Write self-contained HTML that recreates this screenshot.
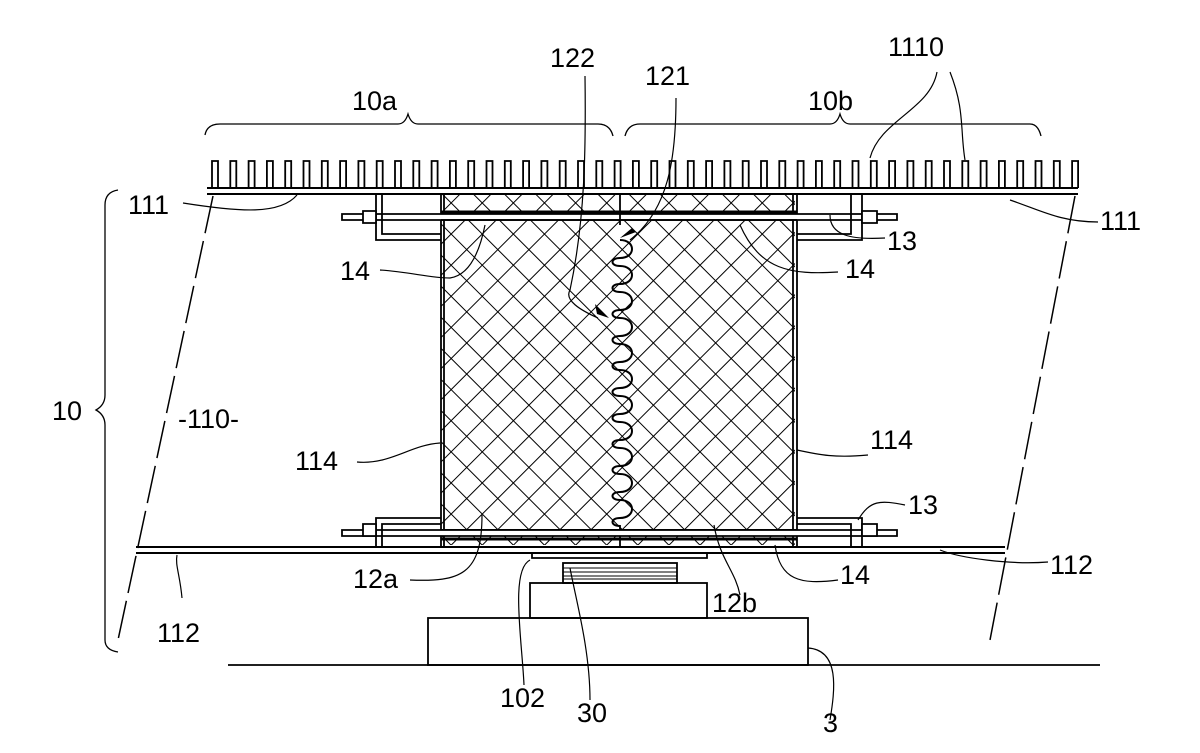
<!DOCTYPE html>
<html><head><style>html,body{margin:0;padding:0;background:#fff}svg{display:block}text{font-family:"Liberation Sans",sans-serif;font-size:27px;fill:#000}</style></head>
<body>
<svg width="1200" height="753" viewBox="0 0 1200 753" xmlns="http://www.w3.org/2000/svg">
<defs>
<pattern id="h" width="22" height="22" patternUnits="userSpaceOnUse" patternTransform="rotate(45)">
<path d="M0 0H22M0 0V22" stroke="#000" stroke-width="2" fill="none"/>
</pattern>
</defs>
<g fill="none" stroke="#000" stroke-width="1.8">
<g id="fins"></g>
<path d="M207 188H1078M207 194H1078" stroke-width="2"/>
<rect x="441" y="194" width="354" height="18" fill="url(#h)" stroke="none"/>
<rect x="441" y="220" width="354" height="310" fill="url(#h)" stroke="none"/>
<rect x="441" y="535" width="354" height="10" fill="url(#h)" stroke="none"/>
<path d="M441 194V547M444 194V547M793 194V547M797 194V547"/>
<path d="M441 212H797" stroke-width="3"/>
<path d="M342 214H897V220H342Z" fill="#fff"/>
<path d="M441 220H797"/>
<path d="M620 194V225M620 525V548"/>
<path d="M376 194V240H441M382 194V234H441M797 240H862V194M797 234H851V194"/>
<path d="M363 211h13v12h-13zM862 211h15v12h-15z" fill="#fff"/>
<path d="M441 530H797" stroke-width="2"/>
<path d="M342 530H897V536H342Z" fill="#fff"/>
<path d="M441 539H797" stroke-width="3"/>
<path d="M376 547V518H441M382 547V524H441M797 518H862V547M797 524H851V547"/>
<path d="M363 524h13v12h-13zM862 524h15v12h-15z" fill="#fff"/>
<path d="M136 547H1005M136 553H1005" stroke-width="2"/>
<path d="M532 553V558H707V553"/>
<rect x="563" y="563" width="114" height="20"/>
<path d="M563 568H677M563 572H677M563 576H677M563 579H677" stroke-width="1"/>
<rect x="530" y="583" width="177" height="35"/>
<rect x="428" y="618" width="380" height="47"/>
<path d="M228 665H1100"/>
<path d="M213 196L118 640M1075 196L990 640" stroke-dasharray="38 8" stroke-width="1.5"/>
<path d="M205 135Q207 124 220 124H398Q405 124 408 114Q411 124 418 124H598Q610 124 613 136" stroke-width="1.3"/>
<path d="M625 136Q628 124 640 124H830Q837 124 840 114Q843 124 850 124H1030Q1038 124 1041 136" stroke-width="1.3"/>
<path d="M118 190Q105 192 105 205V395Q105 405 96 410Q105 415 105 425V640Q105 650 118 652" stroke-width="1.3"/>
<path id="wv" d="M620 240" stroke-width="2"/>
<g stroke-width="1.2">
<path d="M585 76C586 150 585 220 570 290C564 300 580 310 598 318"/>
<path d="M676 98C676 160 668 210 630 240"/>
<path d="M937 72C930 110 880 120 870 158M950 72C965 110 960 130 965 160"/>
<path d="M183 203C240 212 280 215 297 195"/>
<path d="M1098 222C1060 222 1040 210 1010 200"/>
<path d="M885 238C850 240 830 235 830 215"/>
<path d="M380 270C410 272 430 278 450 278C470 275 480 250 485 225"/>
<path d="M838 272C790 275 760 270 740 225"/>
<path d="M357 462C390 465 410 445 440 443"/>
<path d="M868 455C835 458 820 455 797 450"/>
<path d="M905 505C880 500 870 500 858 520"/>
<path d="M410 580C460 582 482 575 482 515"/>
<path d="M838 580C800 585 780 580 775 545"/>
<path d="M1048 562C1010 565 960 558 940 550"/>
<path d="M182 598C180 575 175 565 177 555"/>
<path d="M740 595C735 570 720 560 714 525"/>
<path d="M524 685C522 640 510 570 530 560"/>
<path d="M590 700C590 650 576 600 570 568"/>
<path d="M830 720C835 690 840 650 808 648"/>
</g>
</g>
<path d="M620 238l12-10 4 4z M595 304l14 14-12-4z" fill="#000"/>
<text x="550" y="67">122</text>
<text x="645" y="85">121</text>
<text x="888" y="56">1110</text>
<text x="352" y="110">10a</text>
<text x="808" y="110">10b</text>
<text x="128" y="214">111</text>
<text x="1100" y="230">111</text>
<text x="887" y="250">13</text>
<text x="340" y="280">14</text>
<text x="845" y="278">14</text>
<text x="52" y="420">10</text>
<text x="178" y="428">-110-</text>
<text x="295" y="470">114</text>
<text x="870" y="449">114</text>
<text x="908" y="514">13</text>
<text x="353" y="588">12a</text>
<text x="840" y="584">14</text>
<text x="1050" y="574">112</text>
<text x="157" y="642">112</text>
<text x="712" y="612">12b</text>
<text x="500" y="707">102</text>
<text x="577" y="722">30</text>
<text x="823" y="732">3</text>
</svg>
<script>
(function(){var ns="http://www.w3.org/2000/svg",g=document.getElementById("fins"),d="";
for(var x=212;x<1076;x+=18.3){d+="M"+x.toFixed(1)+" 188V161H"+(x+6).toFixed(1)+"V188";}
var p=document.createElementNS(ns,"path");p.setAttribute("d",d);g.appendChild(p);
var s="M620 240";for(var y=240;y<512;y+=26){s+=" C636 "+y+" 636 "+(y+18)+" 620 "+(y+18)+" C610 "+(y+18)+" 610 "+(y+26)+" 620 "+(y+26);}
document.getElementById("wv").setAttribute("d",s);})();
</script>
</body></html>
